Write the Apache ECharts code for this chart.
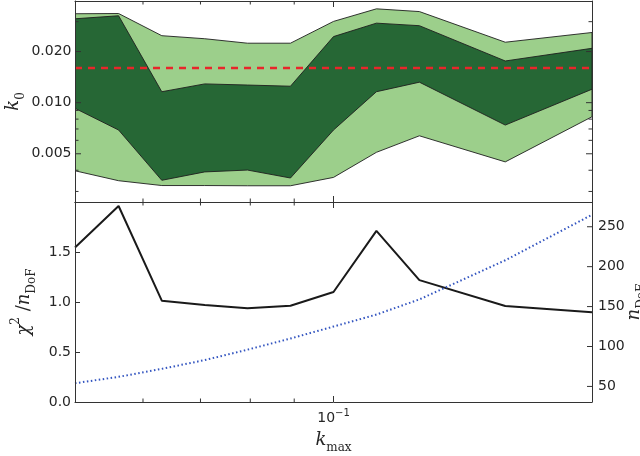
<!DOCTYPE html>
<html><head><meta charset="utf-8">
<script src="https://cdn.jsdelivr.net/npm/echarts@6/dist/echarts.min.js"></script>
<style>html,body{margin:0;padding:0;background:#fff}#c{width:640px;height:456px}</style>
</head><body><div id="c"></div>
<script>
// ---- data ----
const kmax = [0.05, 0.0562, 0.0631, 0.0708, 0.0794, 0.0891, 0.1, 0.1122, 0.1259, 0.1585, 0.2];
const k0Upper95 = [0.0334, 0.0335, 0.0248, 0.0238, 0.0224, 0.0224, 0.0301, 0.0357, 0.0344, 0.0227, 0.0259];
const k0Upper68 = [0.0312, 0.0325, 0.0116, 0.0129, 0.0127, 0.0125, 0.0245, 0.0294, 0.0284, 0.0176, 0.0209];
const k0Lower68 = [0.00926, 0.0069, 0.00349, 0.00391, 0.00401, 0.0036, 0.0069, 0.0116, 0.0132, 0.00738, 0.0120];
const k0Lower95 = [0.00397, 0.00347, 0.00325, 0.00325, 0.00324, 0.00324, 0.00363, 0.0051, 0.00638, 0.00448, 0.00826];
const k0Fiducial = 0.016;
const chi2PerDof = [1.545, 1.96, 1.013, 0.97, 0.937, 0.963, 1.10, 1.711, 1.219, 0.960, 0.897];
const nDoF = [54, 62, 72, 83, 96, 110, 125, 140, 159, 208, 265];

const k0MajorTicks = [0.005, 0.010, 0.020];
const k0MajorLabels = ['0.005', '0.010', '0.020'];
const k0MinorTicks = [0.003, 0.004, 0.006, 0.007, 0.008, 0.009, 0.03];
const kMajorTicks = [0.1];
const kMinorTicks = [0.06, 0.07, 0.08, 0.09];
const chi2TickLabels = ['0.0', '0.5', '1.0', '1.5', ''];
const nDoFTicks = [50, 100, 150, 200, 250];
const nDoFLabels = ['50', '100', '150', '200', '250'];

// ---- scales ----
const K_MIN = 0.05, K_MAX = 0.2;
const K0_MIN = 0.0026, K0_MAX = 0.0397;
const N_MIN = 30.5, N_MAX = 281;
const tx = k => Math.log2(k / K_MIN);
const ty = v => Math.log10(v);

const FRAME = '#333';
const LABEL = '#262626';
const SANS = '"DejaVu Sans", sans-serif';
const SERIF = '"DejaVu Serif", serif';

function band(upper, lower, color, z) {
  return {
    type: 'custom', xAxisIndex: 0, yAxisIndex: 0, silent: true, clip: true, z: z,
    encode: { x: 0, y: 1 },
    data: [[tx(kmax[0]), ty(upper[0])]],
    renderItem: function (params, api) {
      const pts = [];
      for (let i = 0; i < kmax.length; i++) pts.push(api.coord([tx(kmax[i]), ty(upper[i])]));
      for (let i = kmax.length - 1; i >= 0; i--) pts.push(api.coord([tx(kmax[i]), ty(lower[i])]));
      return { type: 'polygon', shape: { points: pts }, style: { fill: color, stroke: '#1e1e1e', lineWidth: 0.9 } };
    }
  };
}

function yTicks(xIdx, yIdx, vals, sides, len, labels, labelSide) {
  return {
    type: 'custom', xAxisIndex: xIdx, yAxisIndex: yIdx, silent: true, clip: false, z: 8,
    encode: { x: 0, y: 1 },
    data: vals.map(v => [1, v]),
    renderItem: function (params, api) {
      const cs = params.coordSys;
      const py = api.coord([api.value(0), api.value(1)])[1];
      const ch = [];
      sides.forEach(function (s) {
        const x0 = s === 'left' ? cs.x : cs.x + cs.width;
        const x1 = s === 'left' ? x0 + len : x0 - len;
        ch.push({ type: 'line', shape: { x1: x0, y1: py, x2: x1, y2: py }, style: { stroke: FRAME, lineWidth: 1 } });
      });
      if (labels) {
        const r = labelSide === 'right';
        ch.push({ type: 'text', x: r ? cs.x + cs.width + 6 : cs.x - 3.5, y: py,
          style: { text: labels[params.dataIndex], align: r ? 'left' : 'right', verticalAlign: 'middle',
                   fontSize: 14, fontFamily: SANS, fill: LABEL } });
      }
      return { type: 'group', children: ch };
    }
  };
}

function xTicks(xIdx, yIdx, yMid, vals, sides, len) {
  return {
    type: 'custom', xAxisIndex: xIdx, yAxisIndex: yIdx, silent: true, clip: false, z: 8,
    encode: { x: 0, y: 1 },
    data: vals.map(v => [v, yMid]),
    renderItem: function (params, api) {
      const cs = params.coordSys;
      const px = api.coord([api.value(0), api.value(1)])[0];
      const ch = [];
      sides.forEach(function (s) {
        const y0 = s === 'top' ? cs.y : cs.y + cs.height;
        const y1 = s === 'top' ? y0 + len : y0 - len;
        ch.push({ type: 'line', shape: { x1: px, y1: y0, x2: px, y2: y1 }, style: { stroke: FRAME, lineWidth: 1 } });
      });
      return { type: 'group', children: ch };
    }
  };
}

const axisBase = {
  type: 'value', z: 10, splitLine: { show: false }, axisTick: { show: false }, axisLabel: { show: false },
  axisLine: { show: true, onZero: false, lineStyle: { color: FRAME, width: 1 } }
};

const subRich = {
  i: { fontFamily: SERIF, fontStyle: 'italic', fontSize: 18, color: LABEL, lineHeight: 28 },
  r: { fontFamily: SERIF, fontSize: 18, color: LABEL, lineHeight: 28 },
  sub: { fontFamily: SERIF, fontSize: 12, color: LABEL, lineHeight: 14, verticalAlign: 'bottom' },
  sup: { fontFamily: SERIF, fontSize: 12, color: LABEL, lineHeight: 16, verticalAlign: 'top' }
};

const chart = echarts.init(document.getElementById('c'), null, { renderer: 'canvas' });
chart.setOption({
  animation: false,
  backgroundColor: '#fff',
  grid: [
    { left: 75, right: 48, top: 1, height: 201, outerBoundsMode: 'none', containLabel: false },
    { left: 75, right: 48, top: 202, height: 200, outerBoundsMode: 'none', containLabel: false }
  ],
  xAxis: [
    Object.assign({}, axisBase, { gridIndex: 0, position: 'bottom', min: tx(K_MIN), max: tx(K_MAX) }),
    Object.assign({}, axisBase, { gridIndex: 0, position: 'top', min: tx(K_MIN), max: tx(K_MAX) }),
    Object.assign({}, axisBase, {
      gridIndex: 1, position: 'bottom', min: 0, max: 2, interval: 1,
      axisLabel: {
        show: true, margin: 6,
        formatter: v => (Math.abs(v - tx(0.1)) < 1e-9 ? '{b|10}{p|\u22121}' : ''),
        rich: {
          b: { fontSize: 14, fontFamily: SANS, color: LABEL, lineHeight: 20 },
          p: { fontSize: 10, fontFamily: SANS, color: LABEL, lineHeight: 12, verticalAlign: 'top' }
        }
      },
      name: '{i|k}{sub|max}', nameLocation: 'middle', nameGap: 24,
      nameTextStyle: { rich: subRich }
    }),
    Object.assign({}, axisBase, { gridIndex: 1, position: 'top', min: 0, max: 2 })
  ],
  yAxis: [
    Object.assign({}, axisBase, {
      gridIndex: 0, position: 'left', min: ty(K0_MIN), max: ty(K0_MAX),
      name: '{i|k}{sub|0}', nameLocation: 'middle', nameRotate: 90, nameGap: 48,
      nameTextStyle: { rich: subRich }
    }),
    Object.assign({}, axisBase, { gridIndex: 0, position: 'right', min: ty(K0_MIN), max: ty(K0_MAX) }),
    Object.assign({}, axisBase, {
      gridIndex: 1, position: 'left', min: 0, max: 2, interval: 0.5,
      axisTick: { show: true, inside: true, length: 5, lineStyle: { color: FRAME } },
      axisLabel: { show: true, margin: 4, fontSize: 14, fontFamily: SANS, color: LABEL,
        formatter: v => chi2TickLabels[Math.round(v / 0.5)] },
      name: '{i|\u03c7}{sup|2}{r| /}{i|n}{sub|DoF}', nameLocation: 'middle', nameRotate: 90, nameGap: 28,
      nameTextStyle: { rich: subRich }
    }),
    Object.assign({}, axisBase, {
      gridIndex: 1, position: 'right', min: N_MIN, max: N_MAX,
      name: '{i|n}{sub|DoF}', nameLocation: 'middle', nameRotate: 90, nameGap: 28,
      nameTextStyle: { rich: subRich }
    })
  ],
  series: [
    band(k0Upper95, k0Lower95, '#9ccf8b', 2),
    band(k0Upper68, k0Lower68, '#266735', 3),
    {
      type: 'line', xAxisIndex: 0, yAxisIndex: 0, z: 4, silent: true, showSymbol: false, symbol: 'none',
      data: kmax.map(k => [tx(k), ty(k0Fiducial)]),
      lineStyle: { color: '#e8262b', width: 2.5, type: [7, 6] }
    },
    {
      type: 'line', xAxisIndex: 2, yAxisIndex: 2, z: 4, silent: true, showSymbol: false, symbol: 'none',
      data: kmax.map((k, i) => [tx(k), chi2PerDof[i]]),
      lineStyle: { color: '#1a1a1a', width: 2 }
    },
    {
      type: 'line', xAxisIndex: 2, yAxisIndex: 3, z: 4, silent: true, showSymbol: false, symbol: 'none',
      data: kmax.map((k, i) => [tx(k), nDoF[i]]),
      lineStyle: { color: '#3355c0', width: 2, type: [1.5, 2.5] }
    },
    yTicks(0, 0, k0MajorTicks.map(ty), ['left', 'right'], 6, k0MajorLabels, 'left'),
    yTicks(0, 0, k0MinorTicks.map(ty), ['left', 'right'], 3.5, null, null),
    xTicks(0, 0, ty(0.01), kMajorTicks.map(tx), ['top', 'bottom'], 6),
    xTicks(0, 0, ty(0.01), kMinorTicks.map(tx), ['top', 'bottom'], 3.5),
    xTicks(2, 2, 1, kMajorTicks.map(tx), ['top', 'bottom'], 6),
    xTicks(2, 2, 1, kMinorTicks.map(tx), ['top', 'bottom'], 3.5),
    yTicks(2, 3, nDoFTicks, ['right'], 5, nDoFLabels, 'right')
  ]
});
</script>
</body></html>
